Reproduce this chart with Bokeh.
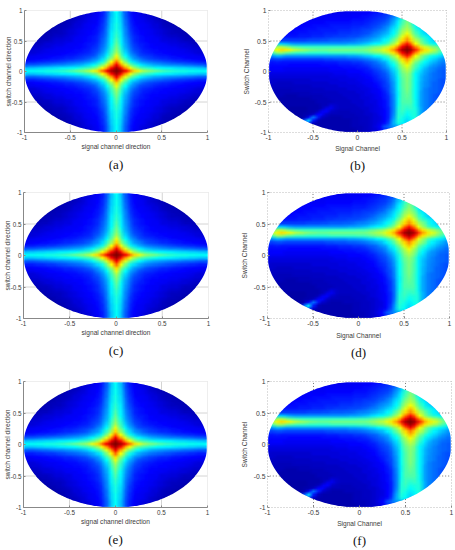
import numpy as np
from bokeh.embed import file_html
from bokeh.layouts import column, row
from bokeh.models import FixedTicker, LinearColorMapper, Title
from bokeh.plotting import figure
from bokeh.resources import INLINE

TICKS = [-1, -0.5, 0, 0.5, 1]
TICK_LABELS = ["-1", "-0.5", "0", "0.5", "1"]
X_LABEL_A = "signal channel direction"
Y_LABEL_A = "switch channel direction"
X_LABEL_B = "Signal Channel"
Y_LABEL_B = "Switch Channel"

# Quadrant x>=0, y>=0 of panels a, c, e; step 0.05; first row y=0, first column x=0
CENTRED_QUADRANT = [
    [100,96,88,76,66,60,54,51,49,47,45,43,42,41,40,40,39,39,38,38,38],
    [96,86,72,62,53,47,44,42,40,38,37,36,36,35,34,34,33,33,32,32,31],
    [88,72,60,50,43,38,34,32,30,29,28,27,26,26,25,24,24,23,22,22,21],
    [76,62,50,40,34,30,27,25,24,23,22,21,20,19,18,18,17,17,16,16,15],
    [66,53,43,34,28,25,22,20,19,18,17,17,16,15,15,14,14,13,13,12,12],
    [60,47,38,30,25,21,19,18,17,16,15,15,14,14,13,13,12,12,11,11,10],
    [54,44,34,27,22,19,17,16,15,14,14,13,13,12,12,11,11,10,9,9,8],
    [51,42,32,25,20,18,16,15,14,14,13,13,12,12,11,11,10,9,9,8,8],
    [49,40,30,24,19,17,15,14,13,13,12,12,11,11,10,9,9,8,8,7,7],
    [47,38,29,23,18,16,15,14,13,12,12,11,10,10,9,9,8,7,7,6,6],
    [45,37,28,22,17,15,14,13,12,12,10,10,9,9,8,7,7,6,6,5,5],
    [43,36,27,21,17,15,14,13,12,11,10,9,8,8,7,6,6,5,5,4,4],
    [42,36,26,20,16,14,13,12,11,10,9,8,7,7,6,6,5,4,4,4,4],
    [41,35,26,19,15,14,13,12,11,10,9,8,7,6,6,5,4,4,4,3,3],
    [40,34,25,18,15,13,12,11,10,9,8,7,6,6,5,4,4,3,3,3,3],
    [40,34,24,18,14,13,12,11,9,9,7,6,6,5,4,4,3,3,3,2,2],
    [39,33,24,17,14,12,11,10,9,8,7,6,5,4,4,3,3,3,2,2,2],
    [39,33,23,17,13,12,11,9,8,7,6,5,4,4,3,3,3,2,2,2,2],
    [38,32,22,16,13,11,10,9,8,7,6,5,4,4,3,2,2,2,2,2,2],
    [38,32,22,16,12,11,9,8,7,6,5,4,4,3,3,2,2,2,2,2,2],
    [38,31,21,15,12,10,9,8,7,6,5,4,4,3,3,2,2,2,2,2,2],
]

# Panels b, d, f; step 0.05; first row y=1, last row y=-1; first column x=-1, last x=1
OFFSET_PATTERN = [
    [10,10,10,10,10,10,10,10,10,10,10,10,10,10,10,10,10,10,11,11,11,12,12,13,14,15,16,18,20,27,36,46,36,27,20,18,16,14,13,12,12],
    [10,10,10,10,10,10,10,10,10,10,11,11,11,11,11,11,11,11,12,12,12,13,13,14,15,16,17,19,22,29,38,46,39,29,22,19,17,15,14,13,13],
    [10,10,10,10,10,10,10,11,11,11,11,11,12,12,12,12,12,12,12,13,13,14,14,15,16,17,18,20,24,31,40,47,40,31,25,21,18,16,15,14,14],
    [10,10,10,10,10,11,11,11,12,12,12,12,12,13,13,13,13,13,13,14,14,14,15,16,17,18,19,22,27,33,42,48,42,33,28,23,20,18,16,15,15],
    [10,10,11,11,11,11,12,12,12,13,13,13,13,14,14,14,14,14,14,15,15,15,16,17,18,19,21,24,29,36,44,50,45,36,30,25,22,20,18,17,16],
    [11,11,11,12,12,12,12,13,13,13,14,14,14,14,15,15,15,15,15,16,16,16,17,18,19,21,23,26,31,38,46,52,46,38,32,27,24,22,20,18,17],
    [11,12,12,12,12,13,13,13,14,14,14,15,15,15,15,16,16,16,16,17,17,18,18,19,21,22,25,29,34,40,49,54,49,40,35,30,26,24,22,20,18],
    [12,12,13,13,13,13,14,14,14,15,15,15,16,16,16,16,17,17,17,18,18,19,20,21,23,25,27,31,36,43,52,57,52,43,38,33,29,26,24,22,20],
    [12,13,13,14,14,14,14,15,15,15,16,16,16,17,17,17,18,18,18,19,19,20,21,23,25,27,30,33,38,46,55,62,55,46,40,35,32,28,26,24,22],
    [13,14,14,15,15,15,15,16,16,16,17,17,17,18,18,19,19,19,20,20,21,22,24,25,27,30,33,36,42,50,60,68,60,50,44,40,36,32,29,26,24],
    [16,17,18,19,19,19,19,19,19,20,20,20,21,21,22,22,22,23,23,24,25,26,27,29,31,33,37,41,48,56,66,74,66,56,50,43,37,34,31,29,27],
    [24,28,33,33,31,29,28,28,28,28,28,28,28,28,28,28,28,28,29,29,30,31,33,35,37,39,42,47,54,62,76,86,76,62,54,47,42,39,36,33,30],
    [34,44,54,54,50,47,45,44,43,43,43,43,43,43,43,43,43,43,43,43,44,44,45,47,49,50,54,58,65,74,88,96,88,74,65,58,54,50,47,44,37],
    [44,56,62,66,64,60,56,54,52,50,49,48,48,48,49,49,49,49,49,49,49,49,50,52,54,56,60,65,72,84,96,100,96,84,72,65,60,56,50,46,42],
    [32,44,52,52,48,46,44,43,43,42,42,42,42,42,43,43,43,43,43,43,44,44,45,47,49,50,54,58,65,74,88,96,88,74,65,58,54,50,45,40,36],
    [22,28,31,30,28,28,28,28,28,28,28,28,28,28,28,28,28,28,29,29,30,31,33,34,37,39,42,47,54,62,76,86,76,62,54,47,42,39,36,33,29],
    [17,19,20,20,19,19,19,19,19,19,19,19,19,20,20,21,21,21,22,22,23,24,25,27,29,31,36,41,48,56,66,74,66,56,50,43,37,34,31,28,26],
    [14,15,16,15,15,15,15,15,15,15,15,15,15,16,16,16,17,17,17,18,18,19,21,22,24,27,30,36,42,50,60,68,60,50,44,38,34,31,28,26,24],
    [13,14,14,14,14,13,13,13,13,13,13,13,14,14,14,14,15,15,15,16,16,17,18,20,22,24,27,33,38,46,55,62,55,46,40,35,31,28,26,24,23],
    [12,13,13,13,12,12,12,12,12,12,12,12,12,12,13,13,13,14,14,14,15,15,16,18,20,22,25,30,35,44,52,58,52,44,37,32,28,26,24,23,22],
    [11,12,12,12,11,11,11,11,11,11,11,11,11,11,12,12,12,12,13,13,13,14,15,16,18,20,23,27,33,41,50,55,50,41,35,30,27,25,23,22,21],
    [10,10,10,10,10,10,10,10,10,10,10,10,10,10,10,11,11,11,12,12,12,13,14,15,17,19,21,25,31,40,48,52,47,38,33,29,26,24,23,22,21],
    [9,9,9,9,9,9,9,9,9,9,9,9,9,9,10,10,10,10,11,11,11,12,13,14,16,18,20,24,30,39,47,51,47,38,32,28,26,24,23,22,21],
    [9,8,8,8,8,8,8,8,8,8,9,9,9,9,9,9,10,10,10,10,11,11,12,13,15,17,19,23,29,38,46,51,46,38,32,28,25,24,22,21,20],
    [8,8,7,7,7,7,8,8,8,8,8,8,8,8,9,9,9,9,10,10,10,11,12,12,14,16,18,22,28,38,46,50,46,38,31,27,25,23,22,21,20],
    [7,7,7,7,7,7,7,7,7,7,8,8,8,8,8,8,9,9,9,9,10,10,11,12,13,15,18,21,28,38,46,50,46,38,31,27,25,23,22,21,20],
    [7,7,6,6,6,6,7,7,7,7,7,7,7,8,8,8,8,8,9,9,9,10,10,11,12,14,17,21,27,38,45,50,45,38,31,26,24,23,22,21,20],
    [6,6,6,6,6,6,6,6,6,6,7,7,7,7,7,7,8,8,8,8,9,9,10,11,12,13,16,20,27,37,45,49,45,38,30,26,24,23,22,20,20],
    [6,6,6,6,5,5,5,6,6,6,6,6,6,7,7,7,7,8,8,8,8,9,10,10,11,13,15,19,26,37,45,48,45,38,30,26,24,22,21,20,19],
    [5,5,5,5,5,5,5,5,5,5,6,6,6,6,7,7,7,7,8,8,8,9,9,10,11,12,15,18,26,38,45,47,45,38,30,26,24,22,21,20,19],
    [5,5,5,5,5,5,5,5,5,5,5,6,6,6,6,7,7,7,7,8,8,8,9,10,10,12,14,18,25,38,45,46,45,39,30,26,24,22,21,20,19],
    [5,5,5,5,5,5,5,5,5,5,5,5,6,6,9,8,7,7,7,7,8,8,9,9,10,12,14,18,25,39,44,44,44,39,30,26,24,22,21,20,19],
    [5,5,5,5,5,4,4,4,4,5,5,5,6,10,11,8,7,7,7,7,7,8,8,9,10,11,14,17,25,40,44,42,43,40,31,26,24,22,21,20,19],
    [4,4,4,4,4,4,4,4,4,5,5,6,11,13,8,7,6,6,6,7,7,7,8,9,10,11,13,17,25,41,43,40,41,41,31,26,24,22,21,20,19],
    [4,4,4,4,4,4,4,4,5,5,7,13,14,8,6,6,6,6,6,6,7,7,8,8,9,11,13,17,26,41,42,38,40,41,31,25,23,22,21,20,19],
    [4,4,4,4,4,4,4,4,5,12,24,16,8,6,5,5,5,6,6,6,6,7,7,8,9,10,13,17,27,42,40,36,39,41,30,25,23,22,21,20,19],
    [4,4,4,4,4,4,4,5,20,34,16,7,5,5,5,5,5,5,5,6,6,7,7,8,9,10,13,18,29,41,39,34,37,40,29,24,23,22,21,20,19],
    [4,4,4,4,4,4,5,10,34,18,7,5,5,5,5,5,5,5,5,6,6,7,7,8,9,11,14,20,30,40,37,32,35,37,28,24,23,22,21,20,19],
    [4,4,4,4,4,4,4,6,10,8,5,5,5,5,5,5,5,5,5,6,6,6,7,8,10,13,20,24,28,30,30,28,30,32,26,24,23,22,21,20,19],
    [4,4,4,4,4,4,4,4,5,5,5,5,5,5,5,5,5,5,5,5,6,6,7,8,9,12,18,20,22,24,25,25,26,26,24,23,22,21,20,20,19],
    [4,4,4,4,4,4,4,4,4,5,5,5,5,5,5,5,5,5,5,5,5,6,6,7,8,10,14,16,18,20,21,21,22,22,22,21,21,20,20,19,19],
]

JET_POS = [0, 12.5, 37.5, 62.5, 87.5, 100]
JET_R = [0, 0, 0, 255, 255, 128]
JET_G = [0, 0, 255, 255, 0, 0]
JET_B = [128, 255, 255, 0, 0, 0]
levels = np.linspace(0, 100, 256)
JET = ["#%02x%02x%02x" % (int(r), int(g), int(b)) for r, g, b in zip(
    np.interp(levels, JET_POS, JET_R), np.interp(levels, JET_POS, JET_G), np.interp(levels, JET_POS, JET_B))]

quad = np.array(CENTRED_QUADRANT, dtype=float)
top = np.hstack([quad[:, :0:-1], quad])
centred = np.vstack([top[:0:-1], top])           # row 0 is y=-1
offset = np.array(OFFSET_PATTERN, dtype=float)[::-1]   # row 0 is y=-1

mapper = LinearColorMapper(palette=JET, low=0, high=100)
angle = np.linspace(0, 2 * np.pi, 361)
CELL = 0.05
X_SHIFTS = [-0.01875, -0.00625, 0.00625, 0.01875]
Y_SHIFTS = [-0.0167, 0.0, 0.0167]


def panel(field, cap, style, w, h, left, right, top_b, bottom, xoff, capstand, lstand, bstand):
    p = figure(width=w, height=h, output_backend="svg", toolbar_location=None,
               x_range=(-1, 1), y_range=(-1, 1),
               min_border_left=left, min_border_right=right,
               min_border_top=top_b, min_border_bottom=bottom)
    # The same read grid, drawn several times slightly apart and evenly blended,
    # so that its cell edges soften as in the reference; no new values are made.
    p.image(image=[field], x=-0.99, y=-0.985, dw=1.98, dh=1.97, color_mapper=mapper)
    k = 1
    inner = field[1:-1, 1:-1]
    span = CELL * inner.shape[0]
    for sy in Y_SHIFTS:
        for sx in X_SHIFTS:
            k += 1
            p.image(image=[inner], x=-span / 2 + sx, y=-span / 2 + sy, dw=span, dh=span,
                    color_mapper=mapper, global_alpha=1.0 / k)
    outer_x, outer_y = [-1.1, 1.1, 1.1, -1.1], [-1.1, -1.1, 1.1, 1.1]
    p.multi_polygons(xs=[[[outer_x, list(np.cos(angle))]]], ys=[[[outer_y, list(np.sin(angle))]]],
                     fill_color="white", line_color=None)
    xs, ys = [], []
    for t in (-0.5, 0.5):
        edge = float(np.sqrt(1 - t * t))
        for s in (-1, 1):
            xs.append([t, t]); ys.append([s * edge, s])
            ys.append([t, t]); xs.append([s * edge, s])
    centredstyle = style == "a"
    grid_col = "#d4d4d4" if centredstyle else "#777777"
    dash = "solid" if centredstyle else "1 2"
    p.multi_line(xs=xs, ys=ys, line_color=grid_col, line_width=1, line_dash=dash)

    p.grid.visible = False
    p.outline_line_color = "#dddddd" if centredstyle else "#777777"
    p.outline_line_dash = dash
    p.outline_line_width = 1
    font = "6.3px" if centredstyle else "6.8px"
    for ax in (p.xaxis[0], p.yaxis[0]):
        ax.ticker = FixedTicker(ticks=TICKS)
        ax.major_label_overrides = dict(zip(TICKS, TICK_LABELS))
        ax.major_label_text_font = "Liberation Sans"
        ax.major_label_text_font_size = font
        ax.major_label_text_color = "#3a3a3a"
        ax.major_label_standoff = 2
        ax.axis_label_text_font = "Liberation Sans"
        ax.axis_label_text_font_size = "6.6px"
        ax.axis_label_text_font_style = "normal"
        ax.axis_label_text_color = "#3a3a3a"
        ax.major_tick_in = 2
        ax.major_tick_out = 0
        ax.minor_tick_line_color = None
        ax.major_tick_line_color = "#888888"
        ax.axis_line_color = "#888888" if centredstyle else None
    p.yaxis[0].major_label_orientation = "horizontal"
    p.xaxis.axis_label = X_LABEL_A if centredstyle else X_LABEL_B
    p.yaxis.axis_label = Y_LABEL_A if centredstyle else Y_LABEL_B
    p.xaxis[0].axis_label_standoff = bstand
    p.yaxis[0].axis_label_standoff = lstand
    p.add_layout(Title(text=cap, align="center", offset=xoff, standoff=capstand,
                       text_font="Liberation Serif", text_font_size="13px",
                       text_font_style="normal", text_color="#111111"), "below")
    return p


a = panel(centred, "(a)", "a", 228, 180, 24, 21, 10, 44, -12.5, 4, -3, 0)
b = panel(offset, "(b)", "b", 227, 180, 40, 9, 7, 48, -12, 2, 2, 2)
c = panel(centred, "(c)", "a", 228, 180, 23, 20, 12, 41, -12.5, 4, -3, 0)
d = panel(offset, "(d)", "b", 227, 180, 39, 6, 12, 39, -13, 2, 3, 3)
e = panel(centred, "(e)", "a", 228, 190, 23, 21, 21, 43, -12, 4, -3, 0)
f = panel(offset, "(f)", "b", 227, 190, 39, 4, 21, 42, -14, 2, 3, 2)

page = column(row(a, b), row(c, d), row(e, f))
open("out.html", "w").write(file_html(page, INLINE))
